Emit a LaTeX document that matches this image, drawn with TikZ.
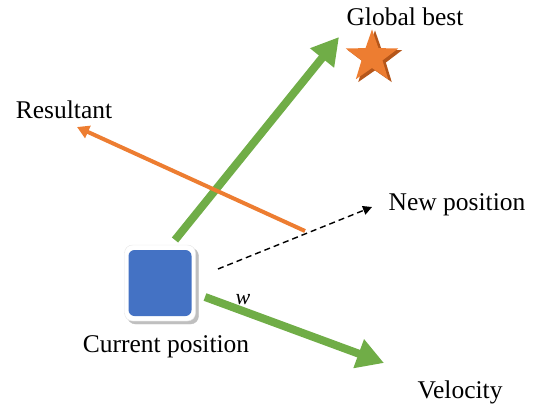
\documentclass[tikz,border=0pt]{standalone}
\usepackage{fontspec}
\setmainfont{Liberation Serif}
\usetikzlibrary{arrows.meta,shapes.geometric}
\definecolor{pgreen}{HTML}{70AD47}
\definecolor{porange}{HTML}{ED7D31}
\definecolor{pdorange}{HTML}{B5561A}
\definecolor{pblue}{HTML}{4472C4}
\tikzset{
  lbl/.style={font=\fontsize{25.5}{30}\selectfont, inner sep=0pt},
  greenarrow/.style={draw=pgreen, line width=8pt, -{Triangle[length=27pt,width=29pt]}},
  orangearrow/.style={draw=porange, line width=4pt, -{Triangle[length=12pt,width=13pt]}},
  dasharrow/.style={draw=black, line width=1.4pt, dash pattern=on 6pt off 4pt, -{Triangle[length=9pt,width=9pt]}},
}
\begin{document}
\begin{tikzpicture}[x=1pt,y=-1pt]
\useasboundingbox (0,0) rectangle (540,409);
% current position square
\node[draw=black!25, fill=black!25, rounded corners=8pt, minimum width=71pt, minimum height=76pt, inner sep=0pt] (sqshadow) at (163,286) {};
\node[draw=black!10, fill=white, rounded corners=8pt, minimum width=71pt, minimum height=76pt, inner sep=0pt] (sqframe) at (160,283) {};
\node[fill=pblue, rounded corners=6pt, minimum width=63pt, minimum height=66pt, inner sep=0pt] (sq) at (160,283) {};
% star
\node[star, star points=5, star point ratio=2.5, fill=pdorange, minimum size=57pt, inner sep=0pt] (starshadow) at (375,59) {};
\node[star, star points=5, star point ratio=2.5, fill=porange, minimum size=55pt, inner sep=0pt] (star) at (372,57) {};
% labels
\node[lbl] (gbest) at (405,17) {Global best};
\node[lbl] (result) at (64,110) {Resultant};
\node[lbl] (newpos) at (457,205) {New position};
\node[lbl] (curpos) at (166,347) {Current position};
\node[lbl] (vel) at (460,392) {Velocity};
\node[lbl, font=\fontsize{22}{26}\selectfont\itshape] (w) at (243,300) {w};
% coordinates
\coordinate (gstart) at (175,240);
\coordinate (gtip) at (339,37);
\coordinate (ostart) at (305,231);
\coordinate (otip) at (77,127);
\coordinate (dstart) at (218,269);
\coordinate (dtip) at (372,207);
\coordinate (vstart) at (205,297);
\coordinate (vtip) at (384,363);
% arrows
\draw[greenarrow] (gstart) -- (gtip);
\draw[orangearrow] (ostart) -- (otip);
\draw[dasharrow] (dstart) -- (dtip);
\draw[greenarrow] (vstart) -- (vtip);
\end{tikzpicture}
\end{document}
